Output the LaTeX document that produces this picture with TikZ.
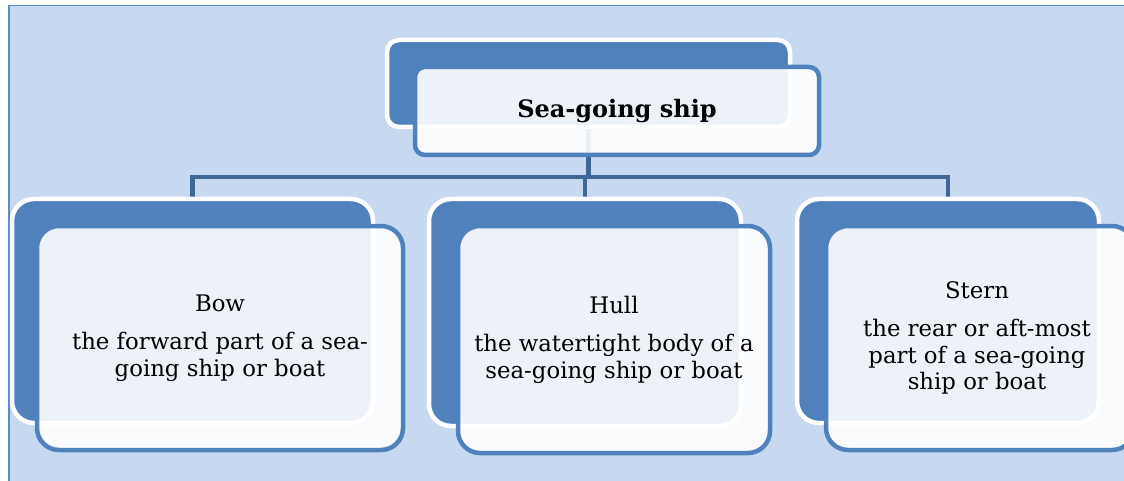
\documentclass[tikz,border=0pt]{standalone}
\usepackage{fontspec}
\setmainfont{DejaVu Serif}
\definecolor{paper}{HTML}{C6D9F0}
\definecolor{frame}{HTML}{5B8BCF}
\definecolor{accent}{HTML}{4F81BD}
\definecolor{wire}{HTML}{3F6696}
\pgfdeclarelayer{paperlayer}
\pgfdeclarelayer{wirelayer}
\pgfsetlayers{paperlayer,wirelayer,main}
\begin{document}
\begin{tikzpicture}[x=1pt,y=-1pt,
  backbox/.style={draw=white, line width=4.5pt, fill=accent, inner sep=0pt, outer sep=0pt},
  frontbox/.style={draw=accent, line width=4.5pt, fill=white, fill opacity=0.9, inner sep=0pt, outer sep=0pt},
  wirestyle/.style={draw=wire, line width=4.5pt},
  caption/.style={align=center, inner sep=0pt, text=black},
  bodytext/.style={caption, font=\fontsize{22.8}{26.5}\selectfont}]
\useasboundingbox (0,0) rectangle (1124,481);
% page background with its frame on the left and top
\begin{pgfonlayer}{paperlayer}
\fill[paper] (8,6) rectangle (1124,481);
\draw[frame, line width=1.5pt] (8.75,481) -- (8.75,5.75) -- (1124,5.75);
\end{pgfonlayer}

% bus line position
\coordinate (bus) at (0,177);

% back plates
\node[backbox, rounded corners=12pt, minimum width=403pt, minimum height=87pt] (topB) at (588.5,83.5) {};
\node[backbox, rounded corners=22pt, minimum width=361pt, minimum height=224pt] (bowB) at (192.5,311) {};
\node[backbox, rounded corners=22pt, minimum width=312pt, minimum height=227pt] (hullB) at (585,312.5) {};
\node[backbox, rounded corners=22pt, minimum width=302pt, minimum height=224pt] (sternB) at (948,311) {};

% connectors, kept underneath the plates
\begin{pgfonlayer}{wirelayer}
\draw[wirestyle] (topB.center) -- (topB.center |- bus);
\draw[wirestyle] (bowB.north) -- (bowB.north |- bus) -- (sternB.north |- bus) -- (sternB.north);
\draw[wirestyle] (hullB.north |- bus) -- (hullB.north);
\end{pgfonlayer}

% translucent front cards
\node[frontbox, rounded corners=10pt, minimum width=404pt, minimum height=88pt] (topF) at (617,111) {};
\node[frontbox, rounded corners=22pt, minimum width=366pt, minimum height=224pt] (bowF) at (220,338) {};
\node[frontbox, rounded corners=22pt, minimum width=312pt, minimum height=227pt] (hullF) at (614,339.5) {};
\node[frontbox, rounded corners=22pt, minimum width=308pt, minimum height=224pt] (sternF) at (980,338) {};

% texts
\node[caption, font=\fontsize{24}{28}\selectfont\bfseries] (topT) at (topF) {Sea-going ship};
\node[bodytext] (bowT) at (bowF) {Bow\\[12pt]the forward part of a sea-\\going ship or boat};
\node[bodytext] (hullT) at (hullF) {Hull\\[12pt]the watertight body of a\\sea-going ship or boat};
\node[bodytext] (sternT) at (977,338) {Stern\\[12pt]the rear or aft-most\\part of a sea-going\\ship or boat};
\end{tikzpicture}
\end{document}
